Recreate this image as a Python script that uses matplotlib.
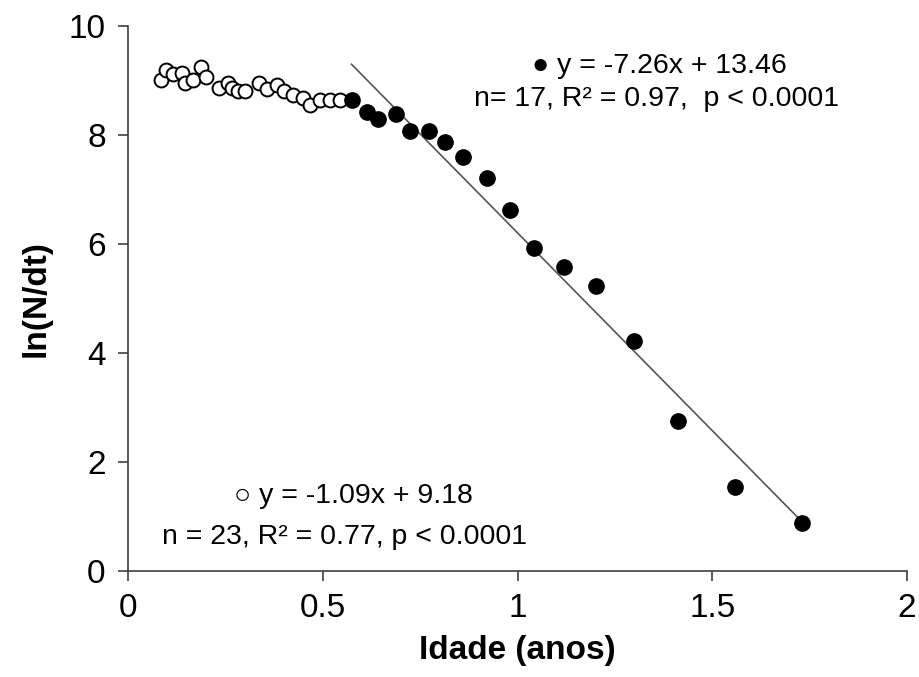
import matplotlib.pyplot as plt
import numpy as np

# open circles (young ages)
x_open = [0.086, 0.098, 0.116, 0.138, 0.146, 0.168, 0.187, 0.200, 0.234, 0.258,
          0.266, 0.283, 0.300, 0.336, 0.358, 0.382, 0.400, 0.424, 0.450, 0.467,
          0.493, 0.519, 0.544]
y_open = [9.00, 9.18, 9.12, 9.14, 8.95, 9.01, 9.24, 9.06, 8.86, 8.95,
          8.86, 8.80, 8.80, 8.95, 8.84, 8.92, 8.80, 8.73, 8.67, 8.55,
          8.64, 8.64, 8.64]

# filled circles
x_fill = [0.574, 0.615, 0.643, 0.687, 0.724, 0.774, 0.814, 0.861, 0.922, 0.982,
          1.043, 1.120, 1.202, 1.300, 1.411, 1.559, 1.730]
y_fill = [8.64, 8.42, 8.29, 8.38, 8.06, 8.07, 7.87, 7.59, 7.20, 6.61,
          5.93, 5.58, 5.23, 4.21, 2.75, 1.54, 0.87]

slope, intercept = -7.26, 13.46

plt.rcParams['font.family'] = ['Liberation Sans', 'DejaVu Sans']

fig = plt.figure(figsize=(9.2, 6.77), dpi=100)
ax = fig.add_axes([0.139, 0.157, 0.847, 0.805])

xl = np.array([min(x_fill), max(x_fill)])
ax.plot(xl, slope * xl + intercept, color='#555555', lw=1.2, zorder=1)
ax.plot(x_open, y_open, 'o', ms=10, mfc='white', mec='black', mew=1.4, zorder=2)
ax.plot(x_fill, y_fill, 'o', ms=11, mfc='black', mec='black', zorder=3)

ax.set_xlim(0, 2)
ax.set_ylim(0, 10)
ax.set_xticks([0, 0.5, 1, 1.5, 2])
ax.set_xticklabels(['0', '0.5', '1', '1.5', '2'])
ax.set_yticks([0, 2, 4, 6, 8, 10])
for s in ['top', 'right']:
    ax.spines[s].set_visible(False)
for s in ['left', 'bottom']:
    ax.spines[s].set_color('#404040')
    ax.spines[s].set_linewidth(1.2)
ax.tick_params(direction='out', length=7, width=1.2, color='#404040',
               labelsize=24)
ax.tick_params(axis='x', pad=9)
ax.tick_params(axis='y', pad=9)

ax.set_xlabel('Idade (anos)', fontsize=24, fontweight='bold', labelpad=8)
ax.set_ylabel('ln(N/dt)', fontsize=24, fontweight='bold', labelpad=12)

ax.text(1.363, 9.26, '\u25cf y = -7.26x + 13.46', fontsize=20.5, ha='center', va='center')
ax.text(1.358, 8.65, 'n= 17, R\u00b2 = 0.97,  p < 0.0001', fontsize=20.5, ha='center', va='center')
ax.text(0.578, 1.38, '\u25cb y = -1.09x + 9.18', fontsize=20.5, ha='center', va='center')
ax.text(0.557, 0.62, 'n = 23, R\u00b2 = 0.77, p < 0.0001', fontsize=20.5, ha='center', va='center')

fig.savefig('out.png', dpi=100)
